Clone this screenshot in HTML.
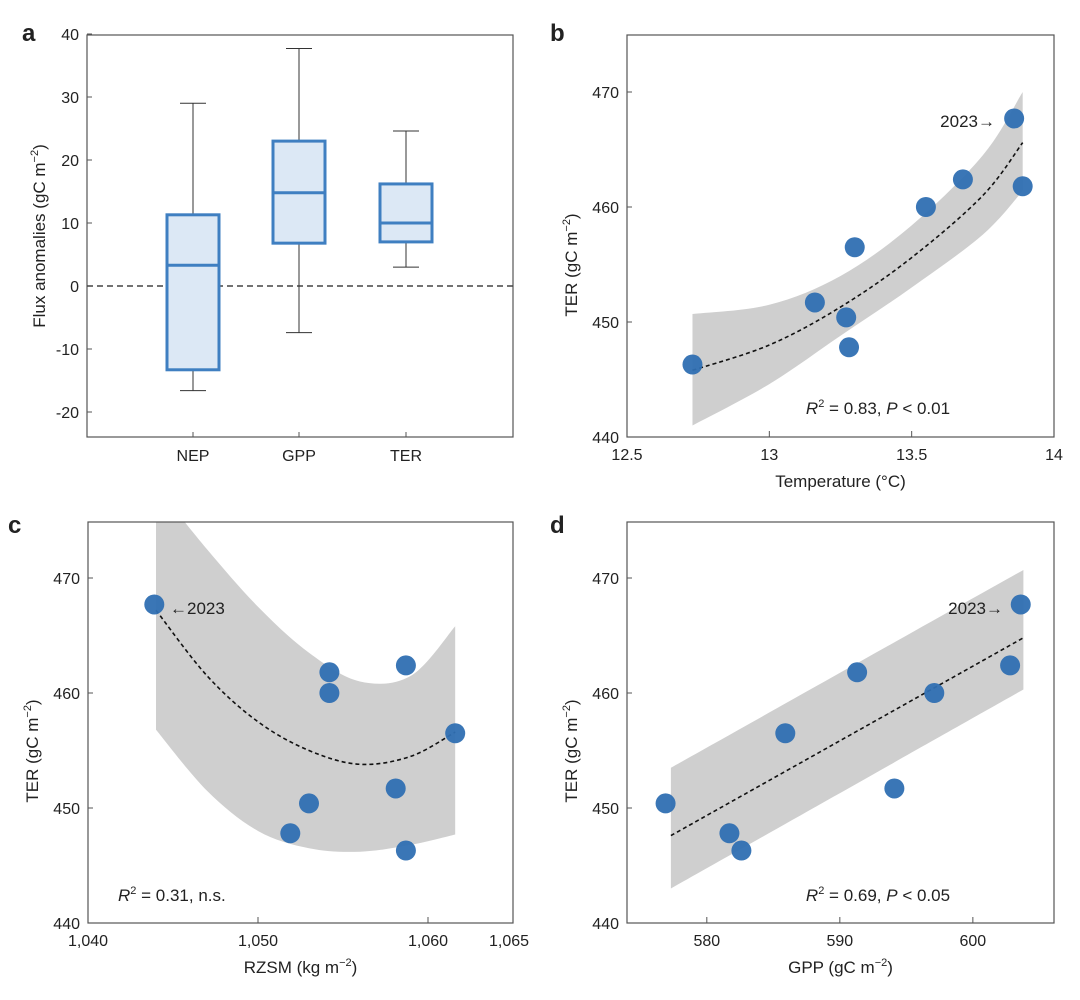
<!DOCTYPE html>
<html><head><meta charset="utf-8"><style>
body{margin:0;background:#fff;}
svg text{font-family:"Liberation Sans",sans-serif;fill:#222;}
</style></head><body>
<svg id="chart" width="1080" height="995" xmlns="http://www.w3.org/2000/svg"></svg>
<script>
// Panel a data
const boxCats=["NEP","GPP","TER"];
const boxMax=[29,37.7,24.6];
const boxQ3=[11.3,23,16.2];
const boxMed=[3.3,14.8,10];
const boxQ1=[-13.3,6.8,7];
const boxMin=[-16.6,-7.4,3];
const aTicks=[40,30,20,10,0,-10,-20];
// Panel b
const bTemp=[12.73,13.16,13.27,13.28,13.30,13.55,13.68,13.86,13.89];
const bTER=[446.3,451.7,450.4,447.8,456.5,460.0,462.4,467.7,461.8];
const bFitX=[12.73,13.0,13.25,13.5,13.75,13.89];
const bFit=[445.8,448.0,451.3,455.6,461.0,465.6];
const bUp=[450.7,451.5,454.0,458.4,464.5,470.0];
const bLo=[441.0,444.6,448.8,453.0,457.6,461.4];
const bXTicks=[12.5,13,13.5,14];
// Panel c
const cRZSM=[1043.9,1054.2,1054.2,1058.7,1061.6,1058.1,1053.0,1051.9,1058.7];
const cTER=[467.7,461.8,460.0,462.4,456.5,451.7,450.4,447.8,446.3];
const cFitX=[1044,1047,1050,1053,1056,1059,1061.6];
const cFit=[467.2,461.5,457.5,455.0,453.8,454.5,456.6];
const cUp=[478,472.5,467.5,463.5,461.0,461.5,465.8];
const cLo=[456.8,451.5,448.0,446.5,446.2,446.8,447.7];
const cXTicks=[1040,1050,1060,1065];
const cXLabels=["1,040","1,050","1,060","1,065"];
// Panel d
const dGPP=[576.9,581.7,582.6,585.9,591.3,594.1,597.1,602.8,603.6];
const dTER=[450.4,447.8,446.3,456.5,461.8,451.7,460.0,462.4,467.7];
const dFitX=[577.3,603.8];
const dFit=[447.6,464.8];
const dUp=[453.5,470.7];
const dLo=[443.0,460.3];
const dXTicks=[580,590,600];
const terTicks=[440,450,460,470];

const NS="http://www.w3.org/2000/svg";
const svg=document.getElementById('chart');
function mk(tag,attrs,parent){const e=document.createElementNS(NS,tag);for(const k in attrs)e.setAttribute(k,attrs[k]);(parent||svg).appendChild(e);return e;}
function txt(s,x,y,size,anchor,parent,extra){const t=mk('text',Object.assign({x:x,y:y,'font-size':size,'text-anchor':anchor||'middle'},extra||{}),parent);t.textContent=s;return t;}
function lin(d0,d1,r0,r1){return v=>r0+(v-d0)*(r1-r0)/(d1-d0);}

const BLUE="#3f7fc1", PT="#2f6fb2";

// ---------- Panel a ----------
{
const g=mk('g',{});


const L=87,R=513,T=35,B=437;
const y=lin(40,-20,34,412);
const xs=[193,299,406];
mk('rect',{x:L,y:T,width:R-L,height:B-T,fill:'none',stroke:'#555','stroke-width':1.2},g);
aTicks.forEach(v=>{mk('line',{x1:L,x2:L+5,y1:y(v),y2:y(v),stroke:'#555'},g);
 const t=txt(String(v),L-8,y(v)+6,16,'end',g);});
mk('line',{x1:L,x2:R,y1:y(0),y2:y(0),stroke:'#444','stroke-width':1.5,'stroke-dasharray':'6,4'},g);
boxCats.forEach((c,i)=>{
 const x=xs[i],w=52;
 const bg=mk('g',{},g);
 
 
 mk('line',{x1:x,x2:x,y1:y(boxMax[i]),y2:y(boxQ3[i]),stroke:'#333'},bg);
 mk('line',{x1:x,x2:x,y1:y(boxQ1[i]),y2:y(boxMin[i]),stroke:'#333'},bg);
 mk('line',{x1:x-13,x2:x+13,y1:y(boxMax[i]),y2:y(boxMax[i]),stroke:'#333'},bg);
 mk('line',{x1:x-13,x2:x+13,y1:y(boxMin[i]),y2:y(boxMin[i]),stroke:'#333'},bg);
 mk('rect',{x:x-w/2,y:y(boxQ3[i]),width:w,height:y(boxQ1[i])-y(boxQ3[i]),fill:'#dce8f5',stroke:BLUE,'stroke-width':3},bg);
 mk('line',{x1:x-w/2,x2:x+w/2,y1:y(boxMed[i]),y2:y(boxMed[i]),stroke:BLUE,'stroke-width':3},bg);
 mk('line',{x1:x,x2:x,y1:B,y2:B-5,stroke:'#555'},g);
 const t=txt(c,x,461,16,'middle',g);
});
const yt=mk('text',{x:0,y:0,'font-size':17,'text-anchor':'middle',transform:'translate(45,236) rotate(-90)'},g);
yt.innerHTML='Flux anomalies (gC m<tspan dy="-7" font-size="11">−2</tspan><tspan dy="7">)</tspan>';

}

// ---------- scatter panel ----------
function scatter(o){
 const g=mk('g',{});
 
 
 const x=lin(o.xd[0],o.xd[1],o.L,o.R), y=lin(440,470,o.B,o.B-345);
 const clipId=o.name+'-clip';
 const cp=mk('clipPath',{id:clipId},g);mk('rect',{x:o.L,y:o.T,width:o.R-o.L,height:o.B-o.T},cp);
 const band=mk('polygon',{points:o.fx.map((v,i)=>x(v)+','+y(o.up[i])).concat(o.fx.slice().reverse().map((v,j)=>x(v)+','+y(o.lo[o.fx.length-1-j]))).join(' '),fill:'#cfcfcf','clip-path':'url(#'+clipId+')'},g);
 
 // smooth via catmull-rom
 function path(xsA,ysA){let p='M'+x(xsA[0])+','+y(ysA[0]);const P=xsA.map((v,i)=>[x(v),y(ysA[i])]);
  for(let i=0;i<P.length-1;i++){const p0=P[Math.max(0,i-1)],p1=P[i],p2=P[i+1],p3=P[Math.min(P.length-1,i+2)];
   p+=' C'+(p1[0]+(p2[0]-p0[0])/6)+','+(p1[1]+(p2[1]-p0[1])/6)+' '+(p2[0]-(p3[0]-p1[0])/6)+','+(p2[1]-(p3[1]-p1[1])/6)+' '+p2[0]+','+p2[1];}
  return p;}
 band.remove();
 const bp=mk('path',{d:path(o.fx,o.up)+' L'+path(o.fx.slice().reverse(),o.lo.slice().reverse()).slice(1)+' Z',fill:'#cfcfcf','clip-path':'url(#'+clipId+')'},g);
 
 const fl=mk('path',{d:path(o.fx,o.fit),fill:'none',stroke:'#111','stroke-width':1.6,'stroke-dasharray':'4,3'},g);
 
 mk('rect',{x:o.L,y:o.T,width:o.R-o.L,height:o.B-o.T,fill:'none',stroke:'#555','stroke-width':1.2},g);
 terTicks.forEach(v=>{mk('line',{x1:o.L,x2:o.L+5,y1:y(v),y2:y(v),stroke:'#555'},g);
  const t=txt(String(v),o.L-8,y(v)+6,16,'end',g);});
 o.xt.forEach((v,i)=>{mk('line',{x1:x(v),x2:x(v),y1:o.B,y2:o.B-6,stroke:'#555'},g);
  let lx=x(v); if(o.xtShift&&o.xtShift[i])lx+=o.xtShift[i];
  const t=txt(o.xl?o.xl[i]:String(v),lx,o.B+23,16,'middle',g);});
 o.px.forEach((v,i)=>{const c=mk('circle',{cx:x(v),cy:y(o.py[i]),r:10,fill:PT,'fill-opacity':0.95},g);
  });
 const xt=mk('text',{x:(o.L+o.R)/2,y:o.B+50,'font-size':17,'text-anchor':'middle'},g);
 xt.innerHTML=o.xtitle;
 const yt=mk('text',{x:0,y:0,'font-size':17,'text-anchor':'middle',transform:'translate('+(o.L-50)+','+(o.B-172)+') rotate(-90)'},g);
 yt.innerHTML='TER (gC m<tspan dy="-7" font-size="11">−2</tspan><tspan dy="7">)</tspan>';
 
 const st=mk('text',{x:o.statX,y:o.statY,'font-size':17,'text-anchor':o.statAnchor||'middle'},g);
 st.innerHTML=o.stat;
 const an=txt(o.ann,o.annX,o.annY,17,o.annAnchor,g);
}
scatter({name:'panel-b',L:627,R:1054,T:35,B:437,xd:[12.5,14],px:bTemp,py:bTER,fx:bFitX,fit:bFit,up:bUp,lo:bLo,xt:bXTicks,
 xtitle:'Temperature (°C)',stat:'<tspan font-style="italic">R</tspan><tspan dy="-7" font-size="11">2</tspan><tspan dy="7"> = 0.83, </tspan><tspan font-style="italic">P</tspan> &lt; 0.01',statX:878,statY:414,ann:'2023→',annX:995,annY:127,annAnchor:'end'});
scatter({name:'panel-c',L:88,R:513,T:522,B:923,xd:[1040,1065],px:cRZSM,py:cTER,fx:cFitX,fit:cFit,up:cUp,lo:cLo,xt:cXTicks,xl:cXLabels,xtShift:[0,0,0,-4],
 xtitle:'RZSM (kg m<tspan dy="-7" font-size="11">−2</tspan><tspan dy="7">)</tspan>',stat:'<tspan font-style="italic">R</tspan><tspan dy="-7" font-size="11">2</tspan><tspan dy="7"> = 0.31, n.s.</tspan>',statX:118,statY:901,statAnchor:'start',ann:'←2023',annX:170,annY:614,annAnchor:'start'});
scatter({name:'panel-d',L:627,R:1054,T:522,B:923,xd:[574,606.1],px:dGPP,py:dTER,fx:dFitX,fit:dFit,up:dUp,lo:dLo,xt:dXTicks,
 xtitle:'GPP (gC m<tspan dy="-7" font-size="11">−2</tspan><tspan dy="7">)</tspan>',stat:'<tspan font-style="italic">R</tspan><tspan dy="-7" font-size="11">2</tspan><tspan dy="7"> = 0.69, </tspan><tspan font-style="italic">P</tspan> &lt; 0.05',statX:878,statY:901,ann:'2023→',annX:1003,annY:614,annAnchor:'end'});

[['a',22,41],['b',550,41],['c',8,533],['d',550,533]].forEach(p=>{
 const t=txt(p[0],p[1],p[2],24,'start',svg,{'font-weight':'bold'});
 
 
});
</script>
</body></html>
